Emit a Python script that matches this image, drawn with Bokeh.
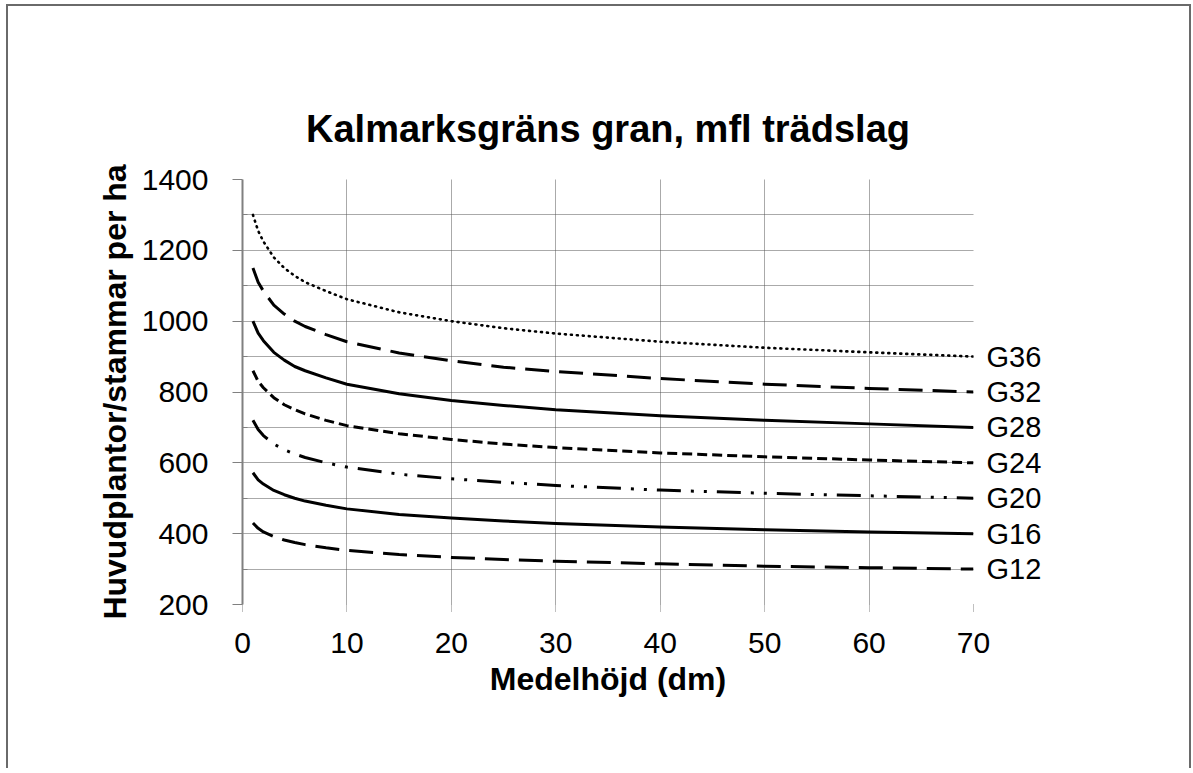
from bokeh.plotting import figure
from bokeh.models import ColumnDataSource, FixedTicker, Range1d, LinearAxis
from bokeh.embed import file_html
from bokeh.resources import INLINE

# Medelhöjd (dm)
hojd = [1, 1.5, 2, 3, 4, 5, 6, 8, 10, 15, 20, 25, 30, 40, 50, 60, 70]

g36 = [1300, 1255, 1225, 1180, 1150, 1128, 1110, 1085, 1062, 1025, 1000, 980, 965, 942, 925, 912, 900]
g32 = [1150, 1110, 1085, 1045, 1020, 1000, 985, 962, 942, 910, 888, 870, 858, 838, 822, 810, 800]
g28 = [1000, 966, 945, 912, 890, 872, 860, 840, 822, 795, 776, 762, 750, 733, 720, 710, 700]
g24 = [860, 830, 812, 784, 764, 750, 738, 720, 705, 682, 666, 653, 643, 628, 617, 608, 600]
g20 = [720, 694, 677, 653, 637, 625, 615, 600, 588, 568, 555, 545, 536, 523, 514, 507, 500]
g16 = [572, 552, 540, 522, 510, 500, 492, 480, 470, 454, 444, 436, 429, 419, 411, 405, 400]
g12 = [430, 415, 405, 392, 382, 375, 369, 360, 353, 341, 333, 327, 322, 315, 308, 304, 300]

series_names = ["G36", "G32", "G28", "G24", "G20", "G16", "G12"]
series_values = [g36, g32, g28, g24, g20, g16, g12]
dash_styles = ["1 5", "24 10", "solid", "10 5", "24 10 3 10 3 10", "solid", "24 10"]
line_caps = ["round", "butt", "butt", "butt", "butt", "butt", "butt"]
line_widths = [2.6, 3, 3, 3, 3, 3, 3]

x_ticks = [0, 10, 20, 30, 40, 50, 60, 70]
y_ticks = [200, 400, 600, 800, 1000, 1200, 1400]
y_minor = [300, 500, 700, 900, 1100, 1300]
y_grid = [200, 300, 400, 500, 600, 700, 800, 900, 1000, 1100, 1200, 1300, 1400]

FONT = "Liberation Sans"

p = figure(width=1185, height=764, output_backend="svg", toolbar_location=None,
           x_range=Range1d(0, 70), y_range=Range1d(200, 1400),
           min_border_left=234, min_border_right=220, min_border_top=173, min_border_bottom=166,
           title="Kalmarksgräns gran, mfl trädslag")
p.margin = (4, 0, 0, 6)
p.styles = {"border-left": "2px solid #6a6a6a", "border-top": "2px solid #6a6a6a",
            "border-right": "2px solid #6a6a6a"}
p.outline_line_color = None
p.background_fill_color = "white"
p.border_fill_color = "white"

p.title.align = "center"
p.title.text_font = FONT
p.title.text_font_size = "38px"
p.title.text_font_style = "bold"
p.title.text_color = "black"
p.title.standoff = 60

for name, vals, dash, cap, lw in zip(series_names, series_values, dash_styles, line_caps, line_widths):
    src = ColumnDataSource(dict(x=hojd, y=vals))
    p.line("x", "y", source=src, line_color="black", line_width=lw, line_dash=dash,
           line_cap=cap, line_join="round")

# grids
p.xgrid.ticker = FixedTicker(ticks=x_ticks)
p.ygrid.ticker = FixedTicker(ticks=y_grid)
for g in (p.xgrid, p.ygrid):
    g.grid_line_color = "#555555"
    g.grid_line_dash = "1 1"
    g.grid_line_width = 1

# y axis
p.yaxis.ticker = FixedTicker(ticks=y_ticks, minor_ticks=y_minor)
p.yaxis.axis_line_color = "#808080"
p.yaxis.axis_line_width = 2
p.yaxis.major_tick_line_color = "#808080"
p.yaxis.major_tick_out = 10
p.yaxis.major_tick_in = 0
p.yaxis.minor_tick_line_color = "#808080"
p.yaxis.minor_tick_in = 5
p.yaxis.minor_tick_out = 0
p.yaxis.major_label_standoff = 24
p.yaxis.axis_label = "Huvudplantor/stammar per ha"
p.yaxis.axis_label_standoff = 6

# x axis
p.xaxis.ticker = FixedTicker(ticks=x_ticks)
p.xaxis.axis_line_color = None
p.xaxis.major_tick_line_color = "#808080"
p.xaxis.major_tick_line_dash = "1 1"
p.xaxis.major_tick_out = 7
p.xaxis.major_tick_in = 0
p.xaxis.minor_tick_line_color = None
p.xaxis.major_label_standoff = 21
p.xaxis.axis_label = "Medelhöjd (dm)"
p.xaxis.axis_label_standoff = 5

for ax in (p.xaxis[0], p.yaxis[0]):
    ax.major_label_text_font = FONT
    ax.major_label_text_font_size = "30px"
    ax.major_label_text_color = "black"
    ax.axis_label_text_font = FONT
    ax.axis_label_text_font_size = "32px"
    ax.axis_label_text_font_style = "bold"
    ax.axis_label_text_color = "black"

# series names at the end of each curve (right axis)
end_values = [v[-1] for v in series_values]
right = LinearAxis(ticker=FixedTicker(ticks=end_values, minor_ticks=[]),
                   major_label_overrides={v: n for v, n in zip(end_values, series_names)})
right.axis_line_color = None
right.major_tick_line_color = None
right.minor_tick_line_color = None
right.major_label_standoff = 7
right.major_label_text_font = FONT
right.major_label_text_font_size = "29px"
right.major_label_text_color = "black"
p.add_layout(right, "right")

open("out.html", "w").write(file_html(p, INLINE))
